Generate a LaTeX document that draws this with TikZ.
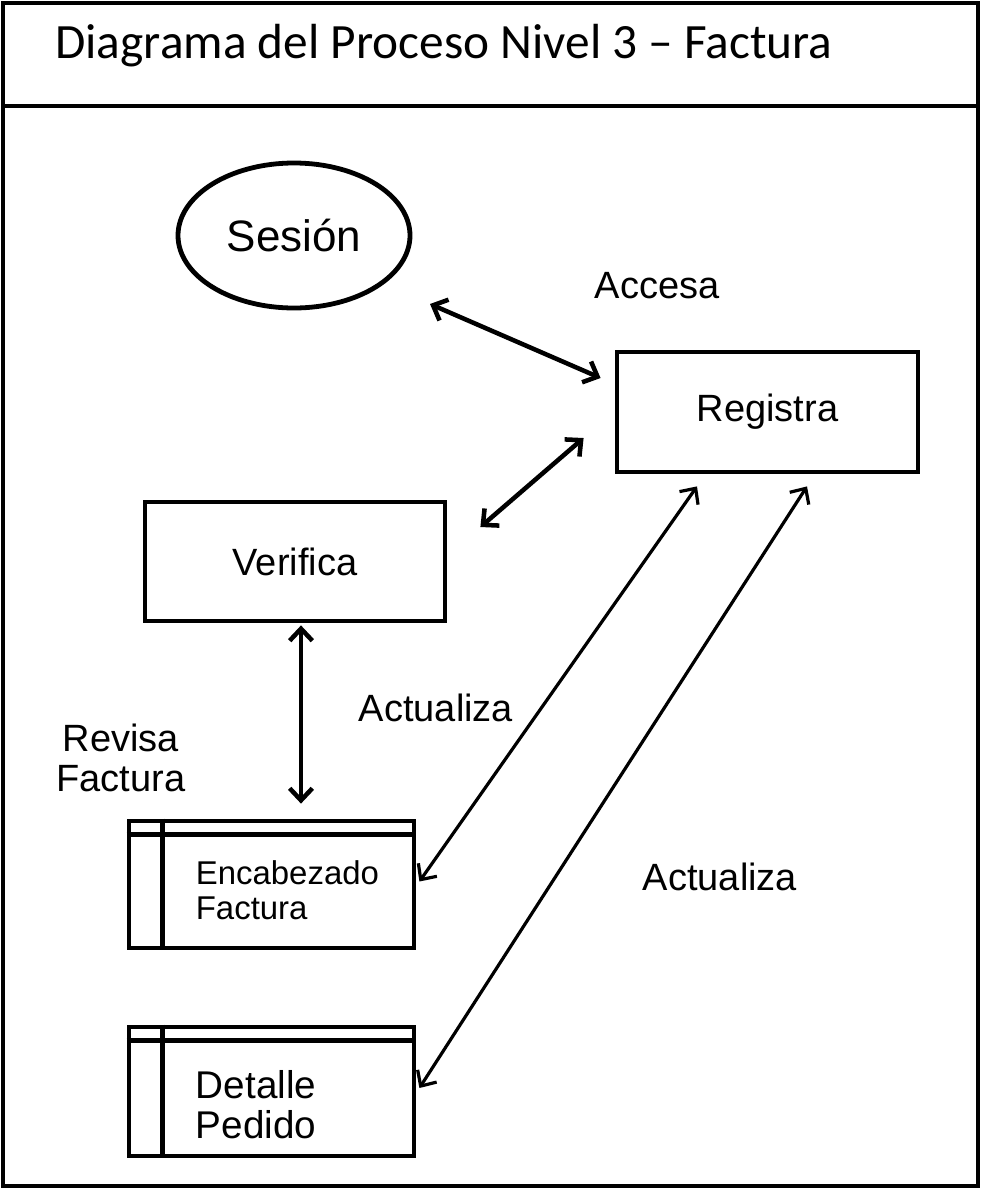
\documentclass[tikz,border=0pt]{standalone}
\usepackage{fontspec}
\setmainfont{Liberation Sans}
\newfontfamily\titlefont{Carlito}
\usetikzlibrary{arrows.meta,calc,shapes.geometric}

\begin{document}
\begin{tikzpicture}[x=0.75pt,y=-0.75pt,
  thick line/.style={line width=3.6pt},
  procbox/.style={draw, thick line, rectangle, inner sep=0pt,
    minimum width=225.75pt, minimum height=90pt,
    font=\fontsize{28.5}{30}\selectfont},
  storebox/.style={draw, thick line, rectangle, inner sep=0pt,
    minimum width=213.75pt, minimum height=96pt},
  entity/.style={draw, thick line, ellipse, inner sep=0pt,
    minimum width=174pt, minimum height=108.75pt,
    font=\fontsize{33}{36}\selectfont},
  flowlabel/.style={inner sep=0pt, align=center,
    font=\fontsize{28.5}{30}\selectfont},
  barb/.tip={Straight Barb[length=9pt,width=17pt]},
  biarrow/.style={line width=3.4pt, barb-barb},
  longarrow/.style={line width=2.4pt, barb-barb}
]
\useasboundingbox (0,0) rectangle (981,1189);

% frame and title bar
\draw[thick line] (3,3) rectangle (978,1186);
\draw[thick line] (3,106) -- (978,106);
\node[anchor=base west, inner sep=0pt,
      font=\titlefont\fontsize{37}{42}\selectfont] (title) at (55,58)
  {Diagrama del Proceso Nivel 3 – Factura};

% entity and processes
\node[entity] (ses) at (294,235.5) {Sesión};
\node[procbox] (reg) at (767.5,412) {Registra};
\node[procbox, minimum width=225pt, minimum height=89.25pt] (ver) at (295,561.5) {Verifica};

% data stores
\node[storebox, minimum height=95.25pt] (enc) at (271.5,884.5) {};
\node[storebox, minimum height=96.75pt] (det) at (271.5,1091.5) {};
\foreach \s in {enc,det}{
  \draw[thick line] ($(\s.north west)+(0,16)$) -- ($(\s.north east)+(0,16)$);
  \draw[thick line] ($(\s.north west)+(36,0)$) -- ($(\s.south west)+(36,0)$);
}
\node[anchor=west, inner sep=0pt, align=left,
      font=\fontsize{24.7}{26}\selectfont] (enctxt) at ($(enc.west)+(69,6)$)
  {Encabezado\\Factura};
\node[anchor=west, inner sep=0pt, align=left,
      font=\fontsize{29}{30}\selectfont] (dettxt) at ($(det.west)+(69,13)$)
  {Detalle\\Pedido};

% labels
\node[flowlabel] (lacc) at (657,286) {Accesa};
\node[flowlabel] (lrev) at (121,758) {Revisa\\Factura};
\node[flowlabel] (lact1) at (436,708) {Actualiza};
\node[flowlabel] (lact2) at (720,877) {Actualiza};

% connector end points
\coordinate (sesA) at ($(ses.center)+(136,68.5)$);
\coordinate (regA) at ($(reg.west)+(-14,-34)$);
\coordinate (regB) at ($(reg.west)+(-31,26)$);
\coordinate (verA) at ($(ver.east)+(33,-34.5)$);
\coordinate (verB) at ($(ver.south)+(6,2)$);
\coordinate (encA) at ($(enc.north)+(29.5,-15)$);
\coordinate (regC) at ($(reg.south)+(-70.5,12)$);
\coordinate (encB) at ($(enc.east)+(3,-3)$);
\coordinate (regD) at ($(reg.south)+(39.5,12)$);
\coordinate (detA) at ($(det.east)+(3,-3.5)$);

% connectors
\draw[biarrow] (sesA) -- (regA);
\draw[biarrow] (verA) -- (regB);
\draw[biarrow] (verB) -- (encA);
\draw[longarrow] (regC) -- (encB);
\draw[longarrow] (regD) -- (detA);
\end{tikzpicture}
\end{document}
